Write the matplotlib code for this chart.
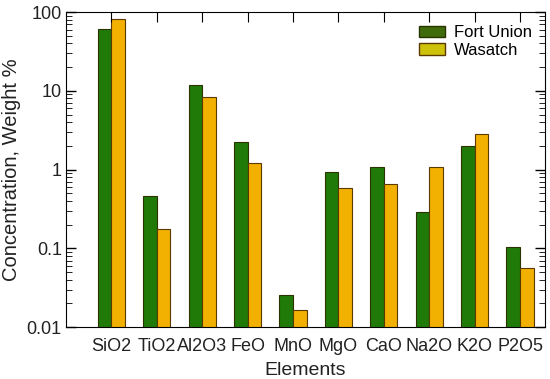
import matplotlib.pyplot as plt
import numpy as np
from matplotlib.patches import Patch
from matplotlib.ticker import LogLocator, FixedFormatter

plt.rcParams["font.family"] = ["Liberation Sans", "DejaVu Sans"]

elements = ["SiO2", "TiO2", "Al2O3", "FeO", "MnO", "MgO", "CaO", "Na2O", "K2O", "P2O5"]
fort_union = [60.8, 0.467, 11.9, 2.26, 0.0256, 0.94, 1.09, 0.287, 2.01, 0.105]
wasatch = [81.5, 0.175, 8.27, 1.2, 0.0165, 0.59, 0.65, 1.09, 2.8, 0.056]

x = np.arange(len(elements))
w = 0.3

fig = plt.figure(figsize=(5.5, 3.79), dpi=100)
ax = fig.add_axes([0.12, 0.137, 0.871, 0.831])

ax.bar(x - w / 2, fort_union, w, color="#1f7a08", edgecolor="#2b3300", linewidth=0.8)
ax.bar(x + w / 2, wasatch, w, color="#f2b000", edgecolor="#5a3a00", linewidth=0.8)

ax.set_yscale("log")
ax.set_ylim(0.01, 100)
ax.set_xlim(-1.0, 9.55)

ax.set_xticks(x)
ax.set_xticklabels(elements, fontsize=13, color="#222222")
ax.set_yticks([0.01, 0.1, 1, 10, 100])
ax.yaxis.set_major_formatter(FixedFormatter(["0.01", "0.1", "1", "10", "100"]))
ax.yaxis.set_minor_locator(LogLocator(base=10, subs=np.arange(2, 10)))
ax.tick_params(axis="y", which="major", direction="in", length=7, labelsize=13,
               right=True, width=1, labelcolor="#222222", pad=3)
ax.tick_params(axis="y", which="minor", direction="in", length=4, right=True,
               labelleft=False)
ax.tick_params(axis="x", which="major", direction="in", length=7, top=True,
               bottom=False, pad=8)

ax.set_ylabel("Concentration, Weight %", fontsize=14.5, color="#222222", labelpad=4)
ax.set_xlabel("Elements", fontsize=14, color="#222222", labelpad=5)

handles = [Patch(facecolor="#3f6b0a", edgecolor="#2b3300", label="Fort Union"),
           Patch(facecolor="#cfc20a", edgecolor="#5a3a00", label="Wasatch")]
ax.legend(handles=handles, loc="upper right", frameon=False, fontsize=12,
          handlelength=1.6, handleheight=0.7, handletextpad=0.5,
          borderaxespad=0.4, labelspacing=0.15)

fig.savefig("out.png", dpi=100)
